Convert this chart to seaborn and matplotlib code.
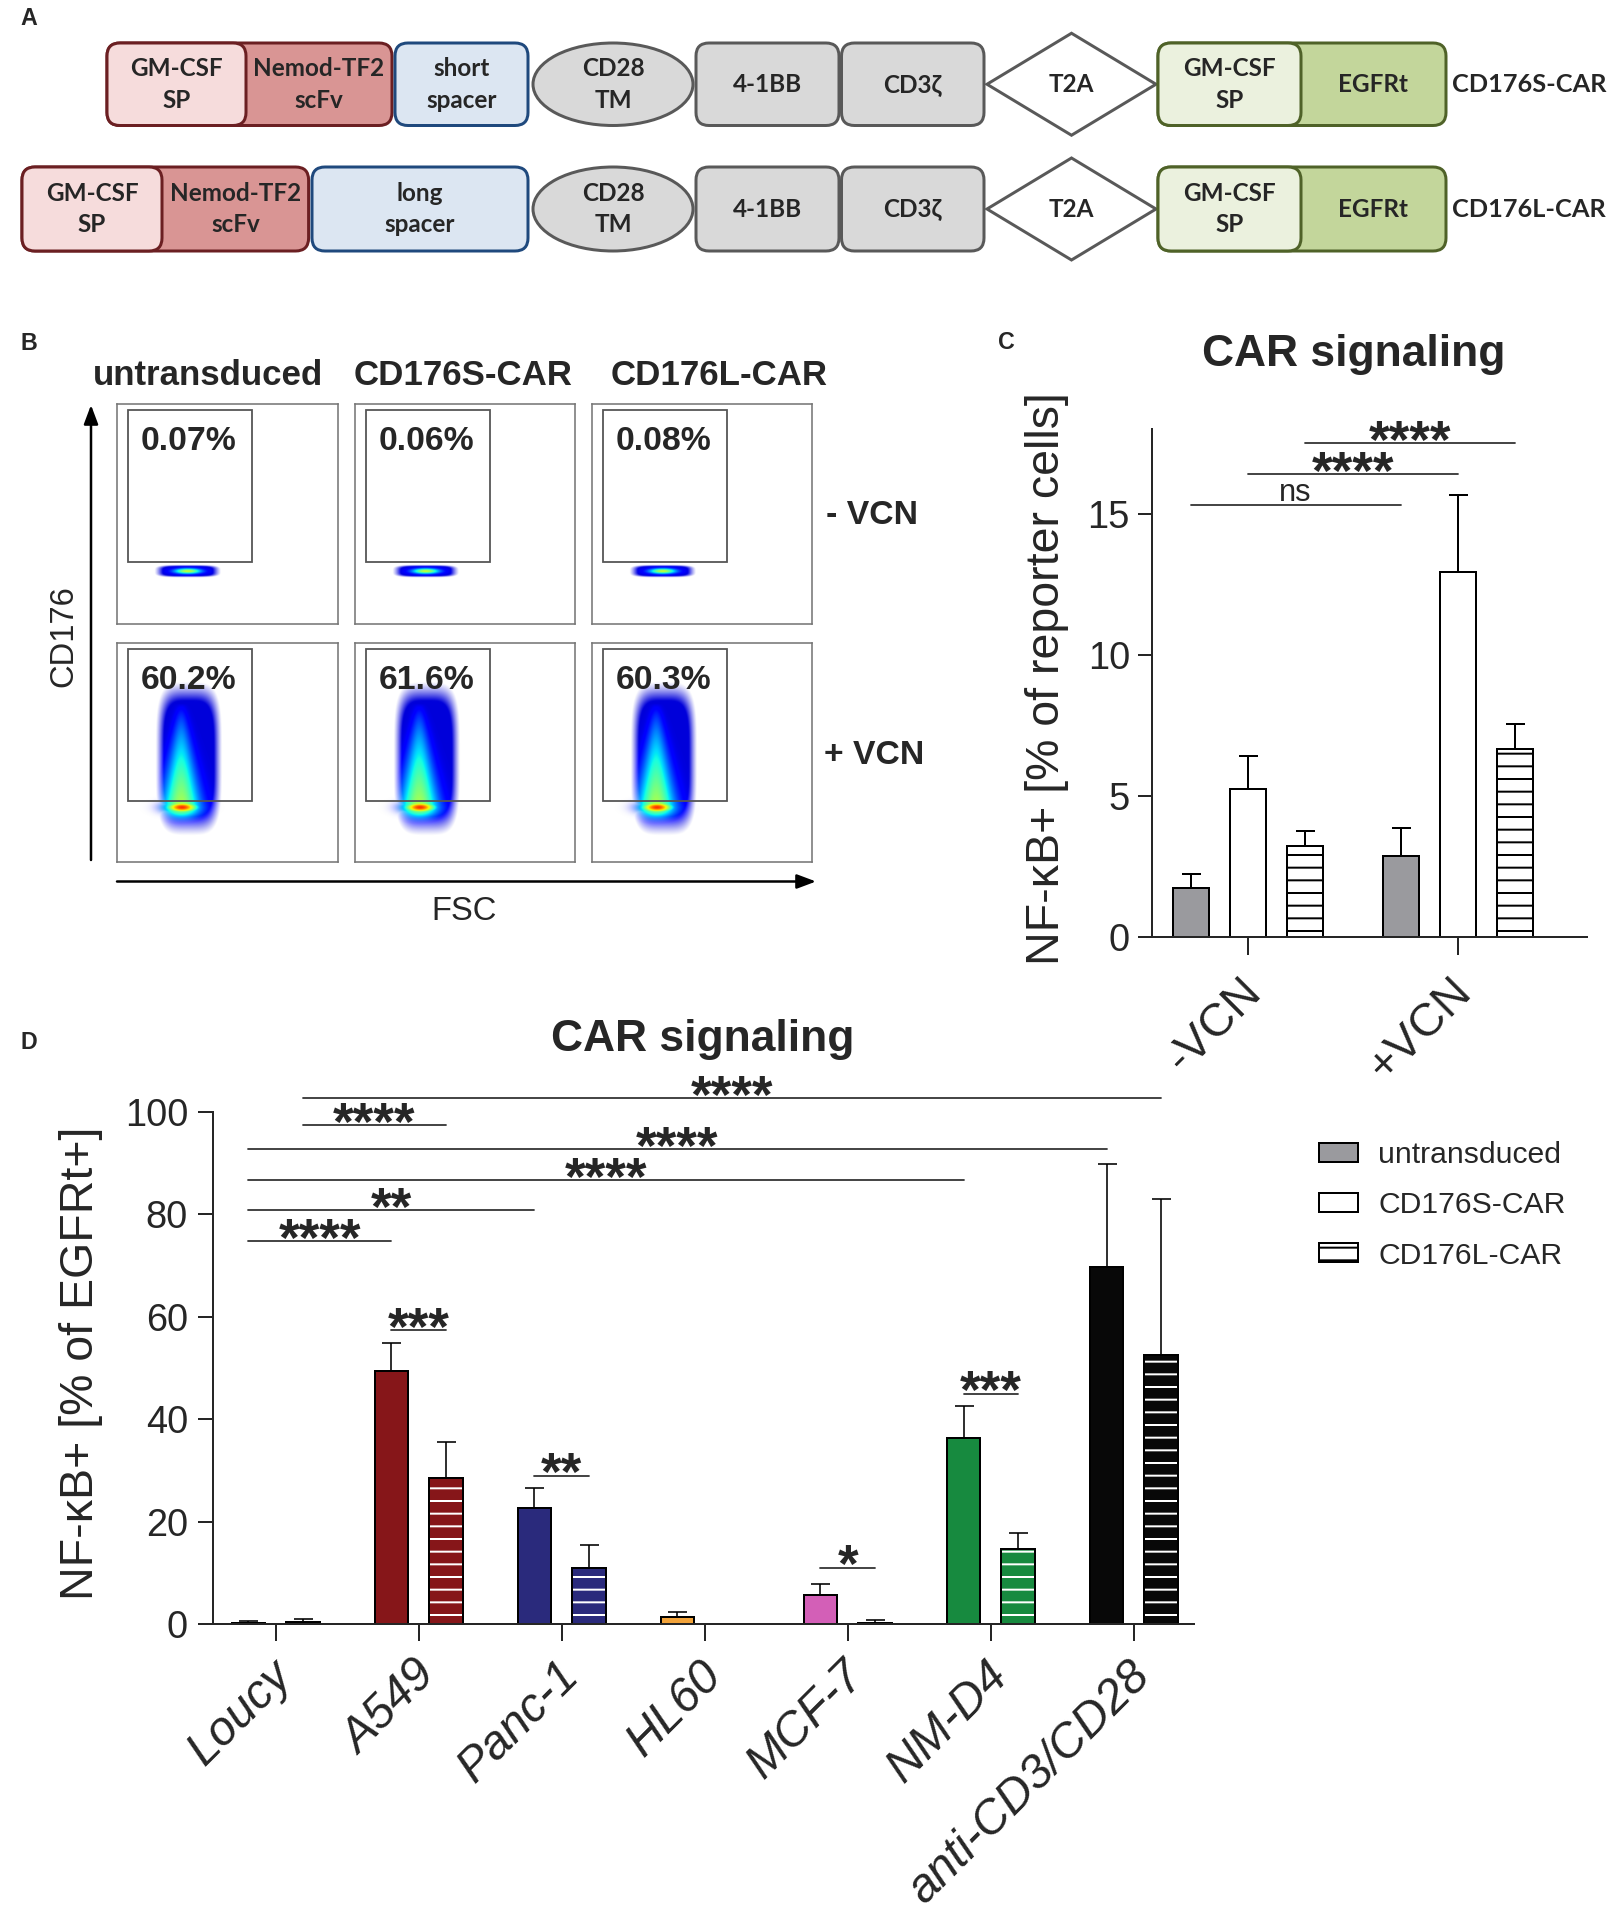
import numpy as np
import pandas as pd
import seaborn as sns
import matplotlib.pyplot as plt
import matplotlib.transforms as mtransforms
from matplotlib.patches import FancyBboxPatch, Ellipse, Polygon, Rectangle, Patch

W, H, DPI = 1614, 1912, 76
PT = 72 / DPI  # points per pixel at this dpi


def pts(px):
    return px * PT


# ---------------- data ----------------
# panel B: % CD176+ events per condition
FLOW_COLS = ["untransduced", "CD176S-CAR", "CD176L-CAR"]
FLOW_ROWS = ["- VCN", "+ VCN"]
FLOW_PCT_NEG = ["0.07%", "0.06%", "0.08%"]
FLOW_PCT_POS = ["60.2%", "61.6%", "60.3%"]

# panel C: NF-kB+ reporter cells
VCN = ["-VCN", "+VCN"]
C_GROUPS = ["untransduced", "CD176S-CAR", "CD176L-CAR"]
C_UNTR = [1.72, 2.87]
C_UNTR_SD = [0.52, 0.98]
C_S = [5.23, 12.94]
C_S_SD = [1.17, 2.71]
C_L = [3.22, 6.66]
C_L_SD = [0.51, 0.89]
C_SIG_GROUP = ["untransduced", "CD176S-CAR", "CD176L-CAR"]
C_SIG_Y = [15.3, 16.4, 17.5]
C_SIG_TXT = ["ns", "****", "****"]

# panel D: NF-kB+ of EGFRt+ per target cell line
CELL_LINES = ["Loucy", "A549", "Panc-1", "HL60", "MCF-7", "NM-D4", "anti-CD3/CD28"]
LINE_COLORS = ["#8a8a8a", "#861619", "#2a2a7c", "#f2a33a", "#d35fb7", "#178a3f", "#080808"]
D_S = [0.2, 49.5, 22.7, 1.4, 5.6, 36.3, 69.8]
D_S_SD = [0.3, 5.3, 3.9, 0.9, 2.2, 6.3, 20.0]
D_L = [0.3, 28.5, 11.0, 0.0, 0.25, 14.7, 52.6]
D_L_SD = [0.7, 7.1, 4.5, 0.0, 0.55, 3.1, 30.5]
D_SIG_FROM = [("Loucy", "L"), ("Loucy", "L"), ("Loucy", "S"), ("Loucy", "S"), ("Loucy", "S"),
              ("Loucy", "S"), ("A549", "S"), ("Panc-1", "S"), ("MCF-7", "S"), ("NM-D4", "S")]
D_SIG_TO = [("anti-CD3/CD28", "L"), ("A549", "L"), ("anti-CD3/CD28", "S"), ("NM-D4", "S"),
            ("Panc-1", "S"), ("A549", "S"), ("A549", "L"), ("Panc-1", "L"), ("MCF-7", "L"), ("NM-D4", "L")]
D_SIG_Y = [102.7, 97.4, 92.7, 86.7, 80.8, 74.8, 57.4, 29.0, 11.0, 45.0]
D_SIG_TXT = ["****", "****", "****", "****", "**", "****", "***", "**", "*", "***"]

# ---------------- style ----------------
sns.set_style("ticks")
plt.rcParams["font.family"] = ["Liberation Sans", "DejaVu Sans"]
plt.rcParams["hatch.linewidth"] = pts(2)
LW = pts(2)
A_FONT = ["Lato", "DejaVu Sans"]
STAR_SIZE = 50
STAR_DY = pts(-14.5)

fig = plt.figure(figsize=(W / DPI, H / DPI), dpi=DPI)
over = fig.add_axes([0, 0, 1, 1])
over.set_xlim(0, W)
over.set_ylim(H, 0)
over.axis("off")


def px_axes(left, top, right, bottom):
    return fig.add_axes([left / W, 1 - bottom / H, (right - left) / W, (bottom - top) / H])


# ---------------- panel A: constructs ----------------
def rbox(x0, x1, y0, y1, fc, ec):
    over.add_patch(FancyBboxPatch((x0, y0), x1 - x0, y1 - y0,
                                  boxstyle="round,pad=0,rounding_size=13",
                                  fc=fc, ec=ec, lw=pts(3)))


def btxt(x, y, s, size=23):
    over.text(x, y, s, ha="center", va="center", fontsize=size, fontweight="bold",
              family=A_FONT, linespacing=1.45)


RED_D, RED_L, RED_E = "#d99594", "#f6dcdc", "#6b1f22"
BLU_F, BLU_E = "#dce6f2", "#1f497d"
GRY_F, GRY_E = "#d9d9d9", "#595959"
GRN_D, GRN_L, GRN_E = "#c3d69b", "#ebf1de", "#4f6228"

rows = [(43, 125.5, 107, 246, 392, 395, "short\nspacer", "CD176S-CAR"),
        (167, 251, 22, 162, 308.6, 312, "long\nspacer", "CD176L-CAR")]
for y0, y1, rx0, rdiv, rx1, sx0, spacer, name in rows:
    yc = (y0 + y1) / 2
    rbox(rx0, rx1, y0, y1, RED_D, RED_E)
    rbox(rx0, rdiv, y0, y1, RED_L, RED_E)
    btxt((rx0 + rdiv) / 2, yc, "GM-CSF\nSP")
    btxt((rdiv + rx1) / 2, yc, "Nemod-TF2\nscFv")
    rbox(sx0, 528, y0, y1, BLU_F, BLU_E)
    btxt((sx0 + 528) / 2, yc, spacer)
    over.add_patch(Ellipse((613, yc), 160, y1 - y0, fc=GRY_F, ec=GRY_E, lw=pts(3)))
    btxt(613, yc, "CD28\nTM")
    rbox(696, 839, y0, y1, GRY_F, GRY_E)
    btxt(767.5, yc, "4-1BB")
    rbox(841.5, 984, y0, y1, GRY_F, GRY_E)
    btxt(912.7, yc, "CD3ζ")
    over.add_patch(Polygon([(987, yc), (1071.5, yc - 51), (1156, yc), (1071.5, yc + 51)],
                           closed=True, fc="white", ec=GRY_E, lw=pts(3)))
    btxt(1071.5, yc, "T2A")
    rbox(1158, 1446, y0, y1, GRN_D, GRN_E)
    rbox(1158, 1301, y0, y1, GRN_L, GRN_E)
    btxt(1229.5, yc, "GM-CSF\nSP")
    btxt(1373.5, yc, "EGFRt")
    over.text(1452, yc, name, ha="left", va="center", fontsize=24, fontweight="bold", family=A_FONT)

# panel letters
for x, y, s in [(20, 25, "A"), (20, 350, "B"), (998, 349, "C"), (20, 1049, "D")]:
    over.text(x, y, s, ha="left", va="baseline", fontsize=22, fontweight="bold")

# ---------------- panel B: flow plots ----------------
uu, vv = np.meshgrid(np.linspace(0, 1, 440), np.linspace(0, 1, 440))
jet = plt.get_cmap("jet")


def density(positive):
    if positive:
        env = np.exp(-((uu - 0.325) / 0.125) ** 4 - ((vv - 0.47) / 0.29) ** 4)
        rise = np.clip((0.72 - vv) / 0.47, 0, 1)
        h = rise ** 0.8 * np.where(vv < 0.25, np.exp(-((vv - 0.25) / 0.05) ** 2), 1.0)
        w = 0.022 + 0.065 * rise
        col = 0.08 + 0.49 * h * np.exp(-((uu - 0.29) / w) ** 2)
        core = np.exp(-((uu - 0.294) / 0.075) ** 2 - ((vv - 0.248) / 0.026) ** 2)
        col = np.maximum(col, 0.86 * core)
        alpha = np.clip((env - 0.12) * 2.6, 0, 1)
        alpha = np.maximum(alpha, np.clip(3 * core, 0, 1))
    else:
        env = np.exp(-((uu - 0.32) / 0.125) ** 4 - ((vv - 0.24) / 0.024) ** 4)
        col = 0.08 + 0.52 * np.exp(-((uu - 0.32) / 0.06) ** 2 - ((vv - 0.24) / 0.012) ** 2)
        alpha = np.clip((env - 0.12) * 2.6, 0, 1)
    rgba = jet(np.clip(col, 0, 1))
    rgba[..., 3] = alpha
    return rgba


FLOW_LEFT = [117.3, 355, 592]
FLOW_TOP = [404, 642.7]
for r, pcts in enumerate([FLOW_PCT_NEG, FLOW_PCT_POS]):
    dens = density(r == 1)
    for c, left in enumerate(FLOW_LEFT):
        top = FLOW_TOP[r]
        ax = px_axes(left, top, left + 220.4, top + 219.5)
        ax.imshow(dens, extent=(0, 1, 0, 1), origin="lower", aspect="auto",
                  interpolation="bilinear", zorder=1)
        ax.add_patch(Rectangle((0.048, 0.28), 0.564, 0.693, fill=False, ec="#555555",
                               lw=pts(1.8), zorder=2))
        ax.text(0.106, 0.79, pcts[c], ha="left", va="baseline", fontsize=32, fontweight="bold",
                transform=ax.transAxes)
        ax.set_xlim(0, 1)
        ax.set_ylim(0, 1)
        ax.set_xticks([])
        ax.set_yticks([])
        for sp in ax.spines.values():
            sp.set_color("#777777")
            sp.set_linewidth(pts(1.6))

for x, s in zip([208, 463, 719], FLOW_COLS):
    over.text(x, 385, s, ha="center", va="baseline", fontsize=33, fontweight="bold")
over.text(826, 516, FLOW_ROWS[0], ha="left", va="center", fontsize=32, fontweight="bold")
over.text(824, 756, FLOW_ROWS[1], ha="left", va="center", fontsize=32, fontweight="bold")
arrow = dict(arrowstyle="-|>,head_length=0.8,head_width=0.3", lw=pts(2.5), color="black",
             mutation_scale=pts(20), shrinkA=0, shrinkB=0)
over.annotate("", xy=(91, 405), xytext=(91, 860), arrowprops=arrow)
over.annotate("", xy=(816, 881.5), xytext=(117, 881.5), arrowprops=arrow)
over.text(64, 636, "CD176", rotation=90, ha="center", va="center", fontsize=31)
over.text(464.5, 911, "FSC", ha="center", va="center", fontsize=31)

# ---------------- panel C ----------------
dfC = pd.DataFrame({"vcn": VCN * 3, "group": np.repeat(C_GROUPS, 2),
                    "value": C_UNTR + C_S + C_L})
sdC = {"untransduced": C_UNTR_SD, "CD176S-CAR": C_S_SD, "CD176L-CAR": C_L_SD}
faceC = {"untransduced": "#9a9a9e", "CD176S-CAR": "white", "CD176L-CAR": "white"}
axC = px_axes(1152, 429, 1587, 936.7)
sns.barplot(data=dfC, x="vcn", y="value", hue="group", order=VCN, hue_order=C_GROUPS,
            width=0.82, gap=0.374, errorbar=None, legend=False, ax=axC,
            edgecolor="black", linewidth=LW)
centersC = {}
for g, cont in zip(C_GROUPS, axC.containers):
    xs, ys = [], []
    for bar in cont:
        bar.set_facecolor(faceC[g])
        bar.set_edgecolor("black")
        if g == "CD176L-CAR":
            bar.set_hatch("-")
        xs.append(bar.get_x() + bar.get_width() / 2)
        ys.append(bar.get_height())
    centersC[g] = xs
    axC.errorbar(xs, ys, yerr=[np.zeros(len(xs)), sdC[g]], fmt="none", ecolor="black",
                 elinewidth=LW, capsize=pts(9.5), capthick=LW)
for g, y, t in zip(C_SIG_GROUP, C_SIG_Y, C_SIG_TXT):
    x0, x1 = centersC[g]
    axC.plot([x0, x1], [y, y], color="#333333", lw=pts(1.8), clip_on=False)
    if t == "ns":
        axC.annotate(t, ((x0 + x1) / 2, y), xytext=(0, pts(4)), textcoords="offset points",
                     ha="center", va="baseline", fontsize=29, annotation_clip=False)
    else:
        axC.annotate(t, ((x0 + x1) / 2, y), xytext=(0, STAR_DY), textcoords="offset points",
                     ha="center", va="baseline", fontsize=STAR_SIZE, fontweight="bold",
                     annotation_clip=False)
axC.set_xlim(-0.457, 1.614)
axC.set_ylim(0, 18)
axC.set_yticks([0, 5, 10, 15])
axC.set_xlabel("")
axC.set_ylabel("NF-κB+ [% of reporter cells]", fontsize=44)
axC.yaxis.set_label_coords(-0.19, 0.508)
axC.tick_params(axis="y", length=pts(14), width=LW, pad=pts(8), labelsize=36)
axC.tick_params(axis="x", length=pts(18), width=LW, pad=pts(15), labelsize=44)
plt.setp(axC.get_xticklabels(), rotation=45, ha="right", va="top", rotation_mode="anchor")
offC = mtransforms.ScaledTranslation(-9 / DPI, 0, fig.dpi_scale_trans)
for lab in axC.get_xticklabels():
    lab.set_transform(lab.get_transform() + offC)
sns.despine(ax=axC)
for sp in axC.spines.values():
    sp.set_linewidth(LW)
axC.patch.set_alpha(0)
over.text(1354, 366, "CAR signaling", ha="center", va="baseline", fontsize=42, fontweight="bold")

# ---------------- panel D ----------------
CARS = ["CD176S-CAR", "CD176L-CAR"]
dfD = pd.DataFrame({"line": CELL_LINES * 2, "car": np.repeat(CARS, len(CELL_LINES)),
                    "value": D_S + D_L})
sdD = {"S": D_S_SD, "L": D_L_SD}
axD = px_axes(213, 1112, 1193.6, 1624)
sns.barplot(data=dfD, x="line", y="value", hue="car", order=CELL_LINES, hue_order=CARS,
            width=0.76, gap=0.38, errorbar=None, legend=False, ax=axD,
            edgecolor="black", linewidth=LW)
centersD = {}
for key, cont in zip(["S", "L"], axD.containers):
    xs, ys = [], []
    for i, bar in enumerate(cont):
        bar.set_facecolor(LINE_COLORS[i])
        if key == "L":
            bar.set_edgecolor("white")
            bar.set_linewidth(0)
            bar.set_hatch("-")
            axD.add_patch(Rectangle(bar.get_xy(), bar.get_width(), bar.get_height(), fill=False,
                                    ec="black", lw=LW, zorder=bar.get_zorder() + 0.1))
        else:
            bar.set_edgecolor("black")
        xc = bar.get_x() + bar.get_width() / 2
        centersD[(CELL_LINES[i], key)] = xc
        xs.append(xc)
        ys.append(bar.get_height())
    sd = np.array(sdD[key])
    keep = (np.array(ys) > 0) | (sd > 0)
    axD.errorbar(np.array(xs)[keep], np.array(ys)[keep],
                 yerr=[np.zeros(keep.sum()), sd[keep]], fmt="none", ecolor="black",
                 elinewidth=pts(1.6), capsize=pts(9.5), capthick=pts(1.6))
for a, b, y, t in zip(D_SIG_FROM, D_SIG_TO, D_SIG_Y, D_SIG_TXT):
    x0, x1 = centersD[a], centersD[b]
    axD.plot([x0, x1], [y, y], color="#333333", lw=pts(1.8), clip_on=False)
    axD.annotate(t, ((x0 + x1) / 2, y), xytext=(0, STAR_DY), textcoords="offset points",
                 ha="center", va="baseline", fontsize=STAR_SIZE, fontweight="bold",
                 annotation_clip=False)
axD.set_xlim(-0.438, 6.419)
axD.set_ylim(0, 100)
axD.set_yticks(range(0, 101, 20))
axD.set_xlabel("")
axD.set_ylabel("NF-κB+ [% of EGFRt+]", fontsize=44)
axD.yaxis.set_label_coords(-0.112, 0.51)
axD.tick_params(axis="y", length=pts(15), width=LW, pad=pts(10), labelsize=36)
axD.tick_params(axis="x", length=pts(16.6), width=LW, pad=pts(12), labelsize=45)
plt.setp(axD.get_xticklabels(), rotation=45, ha="right", va="top", rotation_mode="anchor",
         style="italic")
offD = mtransforms.ScaledTranslation(-6 / DPI, 0, fig.dpi_scale_trans)
for lab in axD.get_xticklabels():
    lab.set_transform(lab.get_transform() + offD)
sns.despine(ax=axD)
for sp in axD.spines.values():
    sp.set_linewidth(LW)
axD.patch.set_alpha(0)
over.text(703, 1051.5, "CAR signaling", ha="center", va="baseline", fontsize=42, fontweight="bold")

# legend (styles of panel C)
handles = [Patch(fc=faceC[g], ec="black", lw=LW, hatch="-" if g == "CD176L-CAR" else None)
           for g in C_GROUPS]
fig.legend(handles, C_GROUPS, loc="upper left", bbox_to_anchor=(1319 / W, 1 - 1141 / H),
           frameon=False, fontsize=28.5, handlelength=1.3, handleheight=0.6, handletextpad=0.67,
           labelspacing=0.74, borderpad=0, borderaxespad=0)

fig.savefig("out.png", dpi=DPI)
